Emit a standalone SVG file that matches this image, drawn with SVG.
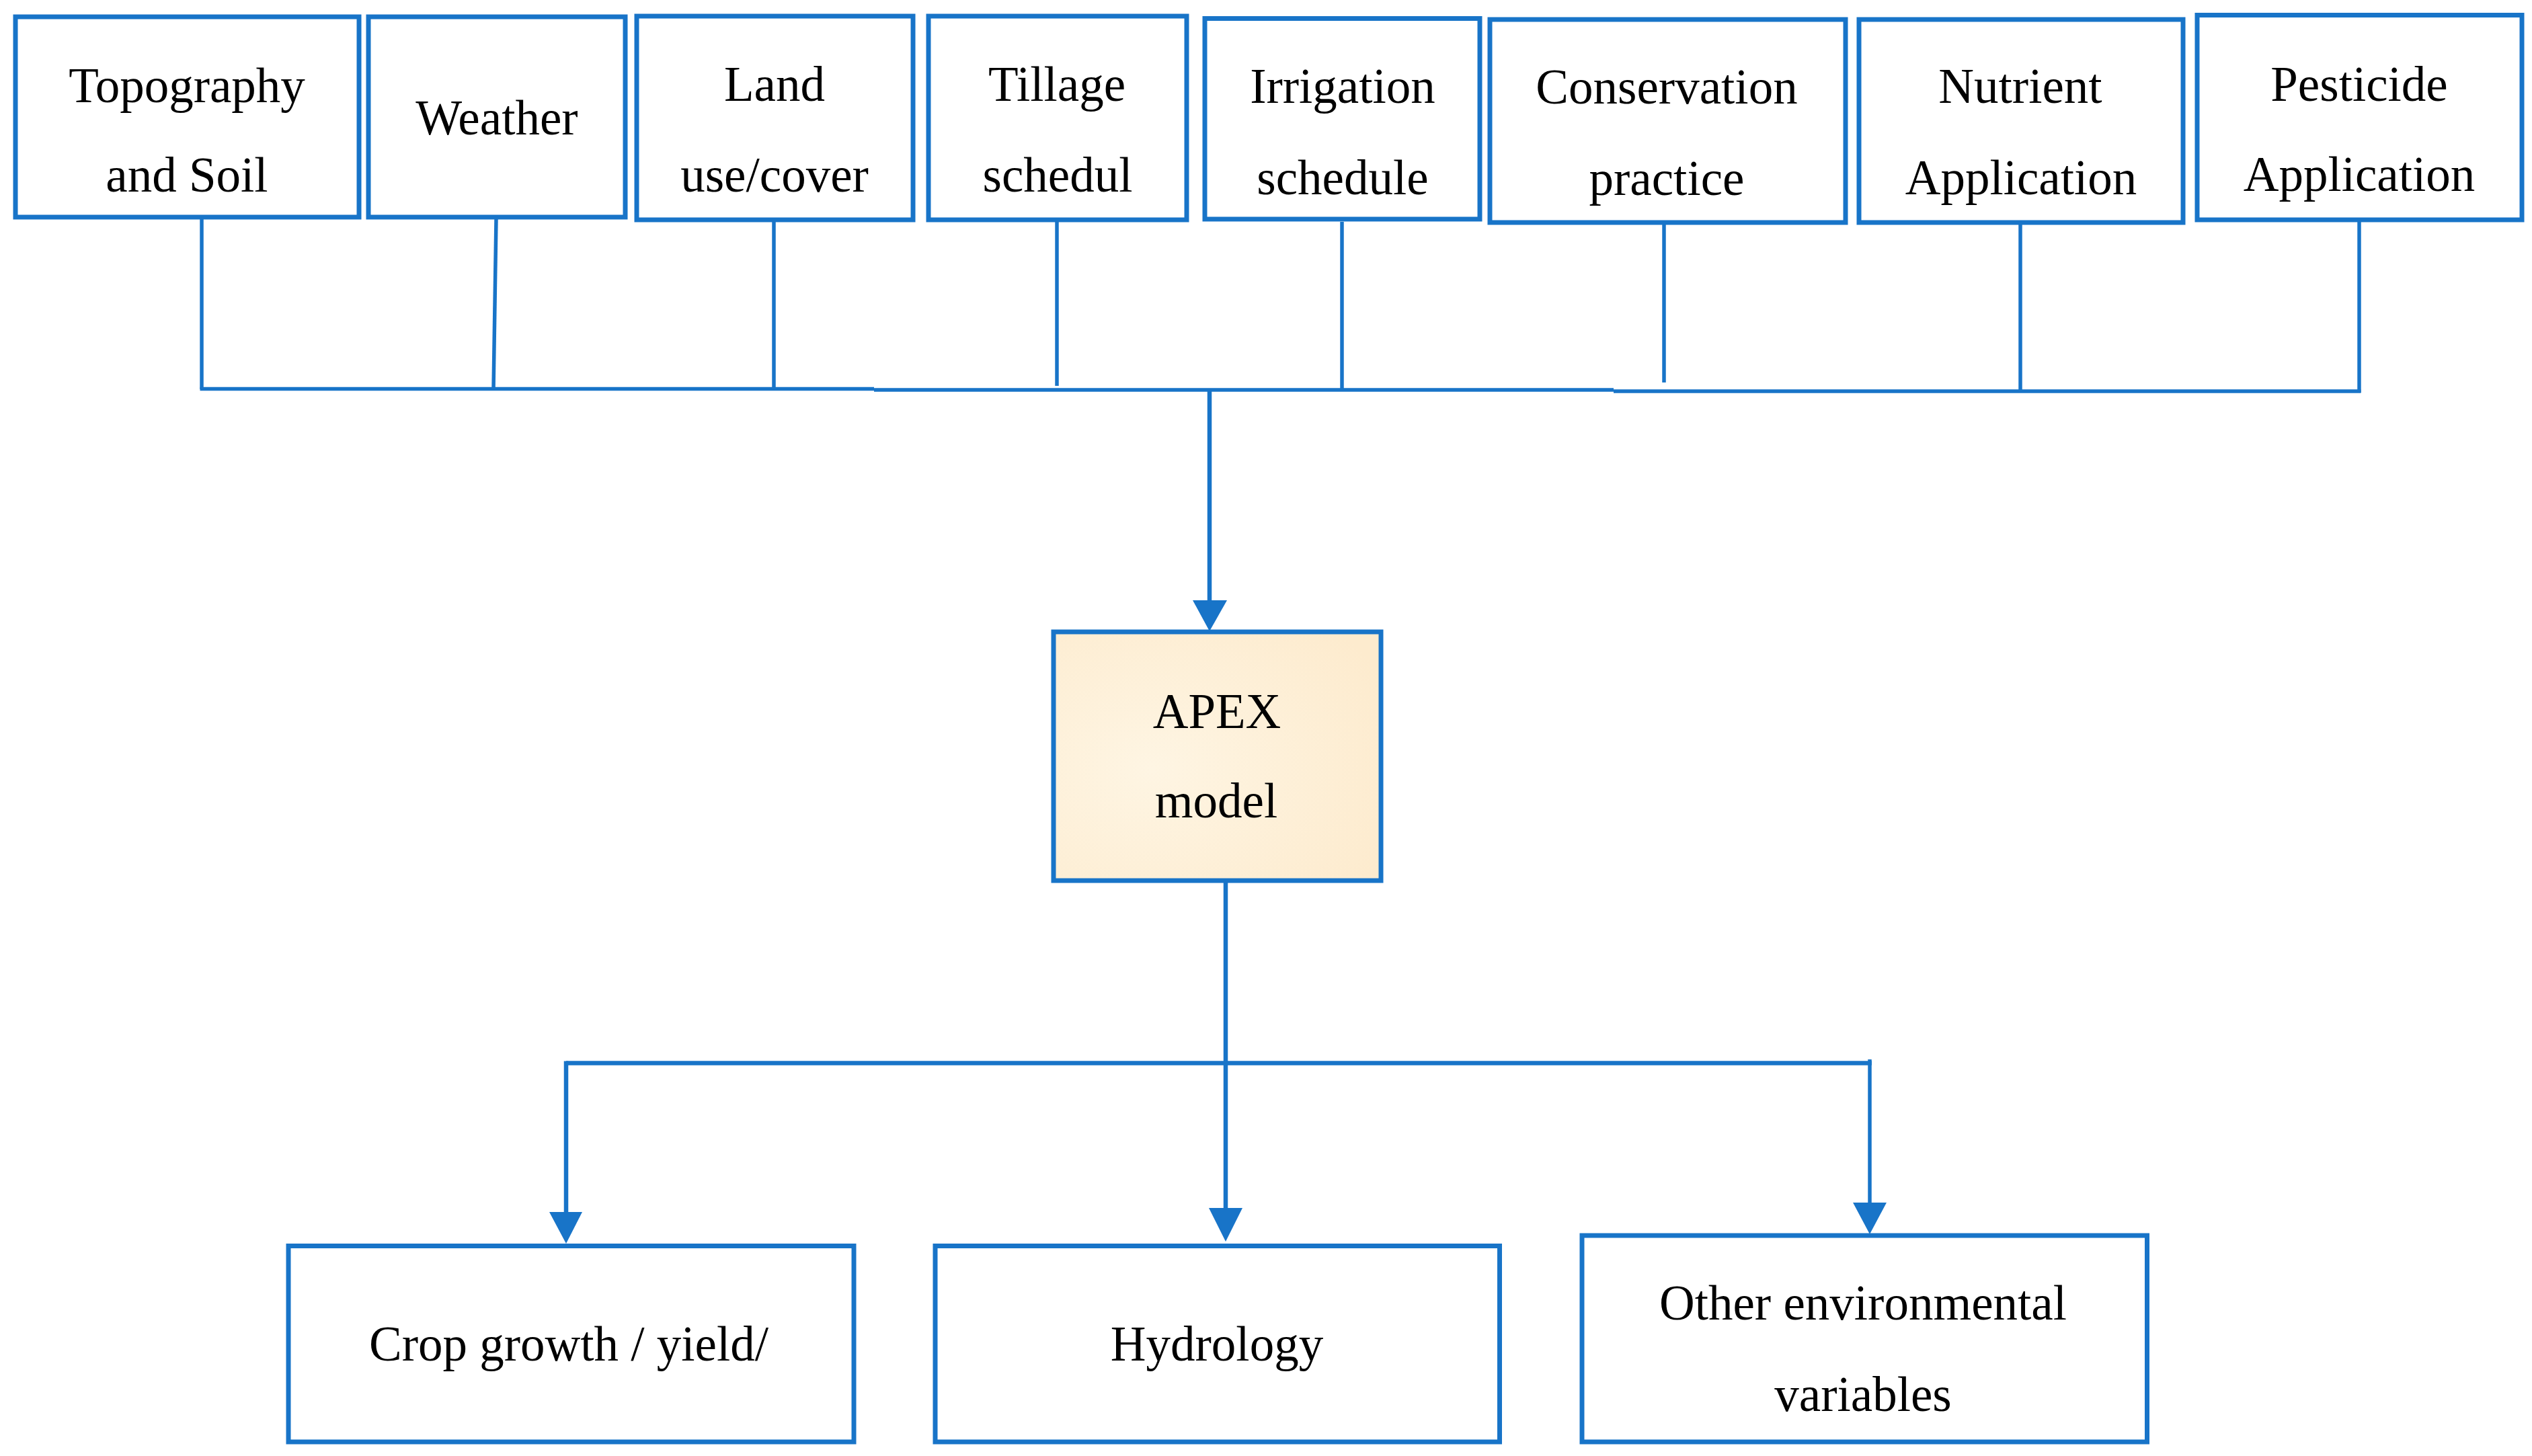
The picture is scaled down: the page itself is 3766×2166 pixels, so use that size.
<svg xmlns="http://www.w3.org/2000/svg" width="3766" height="2166" viewBox="0 0 3766 2166">
<style>
.box{fill:#ffffff;stroke:#1874C8;stroke-width:7}
.apex{fill:url(#cream);stroke:#1874C8;stroke-width:7}
.t{font-family:"Liberation Serif","Times New Roman",serif;font-size:73px;fill:#000000;text-anchor:middle}
.c{fill:none;stroke:#1874C8;stroke-width:5.5}
.ca{fill:none;stroke:#1874C8;stroke-width:6.5}
.ah{fill:#1874C8}
</style>
<defs>
<radialGradient id="cream" cx="0.3" cy="0.55" r="0.8">
<stop offset="0" stop-color="#FEF5E3"/>
<stop offset="1" stop-color="#FDEBCE"/>
</radialGradient>
</defs>
<rect width="3766" height="2166" fill="#ffffff"/>

<g id="connectors">
<path class="c" d="M300,326 V579"/>
<path class="c" d="M738,326 L734,579"/>
<path class="c" d="M1151,330 V580"/>
<path class="c" d="M1572,330 V574"/>
<path class="c" d="M1996,330 V580"/>
<path class="c" d="M2475,334 V569"/>
<path class="c" d="M3005,334 V581"/>
<path class="c" d="M3509,330 V584"/>
<path class="c" d="M297.5,578.5 H1300 M1300,580 H2400 M2400,582 H3511.5"/>
<path class="ca" d="M1799,580 V900"/>
<polygon class="ah" points="1774,893 1825,893 1799,939"/>
<path class="ca" d="M1823,1313 V1805"/>
<polygon class="ah" points="1798,1797 1848,1797 1823,1847"/>
<path class="ca" d="M842,1581.5 H2784"/>
<path class="ca" d="M842,1578.5 V1810"/>
<polygon class="ah" points="817,1803 866,1803 842,1850"/>
<path class="c" d="M2781,1576 V1795"/>
<polygon class="ah" points="2756,1789 2806,1789 2781,1836"/>
</g>

<g id="topography">
<rect class="box" x="23" y="25" width="511" height="298"/>
<text class="t" x="278" y="152">Topography</text>
<text class="t" x="278" y="285">and Soil</text>
</g>
<g id="weather">
<rect class="box" x="548" y="25" width="382" height="298"/>
<text class="t" x="739" y="200">Weather</text>
</g>
<g id="landuse">
<rect class="box" x="947" y="24" width="411" height="303"/>
<text class="t" x="1152" y="150">Land</text>
<text class="t" x="1152" y="285">use/cover</text>
</g>
<g id="tillage">
<rect class="box" x="1381" y="24" width="384" height="303"/>
<text class="t" x="1572" y="150">Tillage</text>
<text class="t" x="1573" y="285">schedul</text>
</g>
<g id="irrigation">
<rect class="box" x="1792" y="27.5" width="409" height="298.5"/>
<text class="t" x="1997" y="153">Irrigation</text>
<text class="t" x="1997" y="289">schedule</text>
</g>
<g id="conservation">
<rect class="box" x="2216" y="29" width="529" height="302"/>
<text class="t" x="2479" y="154">Conservation</text>
<text class="t" x="2479" y="290">practice</text>
</g>
<g id="nutrient">
<rect class="box" x="2765" y="29" width="482" height="302"/>
<text class="t" x="3005" y="153">Nutrient</text>
<text class="t" x="3006" y="289">Application</text>
</g>
<g id="pesticide">
<rect class="box" x="3268" y="22.5" width="483" height="304.5"/>
<text class="t" x="3509" y="150">Pesticide</text>
<text class="t" x="3509" y="284">Application</text>
</g>

<g id="apex">
<rect class="apex" x="1567" y="940" width="487" height="370"/>
<text class="t" x="1810" y="1083">APEX</text>
<text class="t" x="1809" y="1216">model</text>
</g>

<g id="crop">
<rect class="box" x="429" y="1853.5" width="841" height="291.5"/>
<text class="t" x="846" y="2024">Crop growth / yield/</text>
</g>
<g id="hydrology">
<rect class="box" x="1391" y="1853.5" width="839.5" height="291.5"/>
<text class="t" x="1810" y="2024">Hydrology</text>
</g>
<g id="other">
<rect class="box" x="2353" y="1838" width="840.5" height="307"/>
<text class="t" x="2771" y="1963">Other environmental</text>
<text class="t" x="2771" y="2099">variables</text>
</g>
</svg>
